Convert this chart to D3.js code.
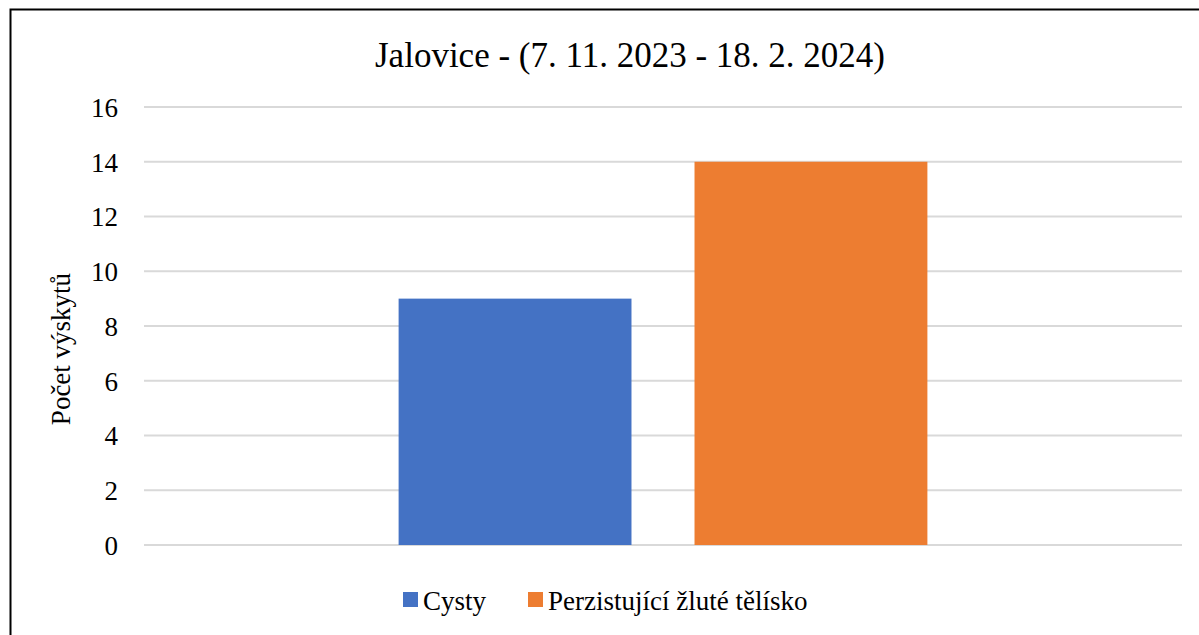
<!DOCTYPE html>
<html>
<head>
<meta charset="utf-8">
<script src="https://cdn.jsdelivr.net/npm/d3@7"></script>
</head>
<body style="margin:0">
<svg id="chart" width="1199" height="635"></svg>
<script>
const categories = [""];
const seriesNames = ["Cysty", "Perzistující žluté tělísko"];
const seriesValues = [[9, 14]]; // per category: Cysty, Perzistující
const seriesColors = ["#4472c4", "#ed7d31"];
const yTicks = [0, 2, 4, 6, 8, 10, 12, 14, 16];
const title = "Jalovice - (7. 11. 2023 - 18. 2. 2024)";
const yLabel = "Počet výskytů";

const width = 1199, height = 635;
const svg = d3.select("#chart");

// frame of the embedded chart (runs off right and bottom)
svg.append("rect")
    .attr("x", 10.5).attr("y", 9.5)
    .attr("width", 1300).attr("height", 700)
    .attr("fill", "#fff")
    .attr("stroke", "#000")
    .attr("stroke-width", 2);

const margin = {left: 144, right: 17, top: 107, bottom: 90};

const y = d3.scaleLinear()
    .domain([0, 16])
    .range([height - margin.bottom, margin.top]);

const x0 = d3.scaleBand()
    .domain(categories)
    .range([margin.left, width - margin.right])
    .padding(0.325);

const x1 = d3.scaleBand()
    .domain(seriesNames)
    .range([0, x0.bandwidth()])
    .paddingInner(0.213);

// gridlines
svg.append("g")
    .selectAll("line")
    .data(yTicks)
    .join("line")
    .attr("x1", margin.left)
    .attr("x2", width - margin.right)
    .attr("y1", d => y(d))
    .attr("y2", d => y(d))
    .attr("stroke", "#d9d9d9")
    .attr("stroke-width", 2);

// bars
const groups = svg.append("g")
    .selectAll("g")
    .data(categories)
    .join("g")
    .attr("transform", d => `translate(${x0(d)},0)`);

groups.selectAll("rect")
    .data((d, i) => seriesNames.map((s, j) => ({s, v: seriesValues[i][j], c: seriesColors[j]})))
    .join("rect")
    .attr("x", d => x1(d.s))
    .attr("width", x1.bandwidth())
    .attr("y", d => y(d.v))
    .attr("height", d => y(0) - y(d.v))
    .attr("fill", d => d.c);

// y axis labels
const yAxis = d3.axisLeft(y).tickValues(yTicks).tickSize(0).tickPadding(0);
const ax = svg.append("g")
    .attr("transform", `translate(${margin.left - 26},0)`)
    .call(yAxis);
ax.select(".domain").remove();
ax.selectAll("text")
    .style("font-family", "Times New Roman")
    .style("font-size", "27px")
    .attr("fill", "#000")
    .attr("dy", "0.35em");

// title
svg.selectAll("text.title")
    .data(["Liberation Serif"])
    .join("text")
    .attr("class", "title")
    .attr("x", 630)
    .attr("y", 67)
    .attr("text-anchor", "middle")
    .attr("font-size", 35)
    .style("font-family", d => d)
    .text(title);

// y label
svg.append("text")
    .attr("transform", "translate(70,349) rotate(-90)")
    .attr("text-anchor", "middle")
    .style("font-family", "serif")
    .style("font-size", "27px")
    .text(yLabel);

// legend
const legendX = [403, 528];
const legend = svg.append("g")
    .selectAll("g")
    .data(seriesNames)
    .join("g")
    .attr("transform", (d, i) => `translate(${legendX[i]},592)`);

legend.append("rect")
    .attr("width", 15).attr("height", 15)
    .attr("fill", (d, i) => seriesColors[i]);

legend.append("text")
    .attr("x", 20)
    .attr("y", 18)
    .style("font-family", "Tinos")
    .style("font-size", "27px")
    .text(d => d);
</script>
</body>
</html>
